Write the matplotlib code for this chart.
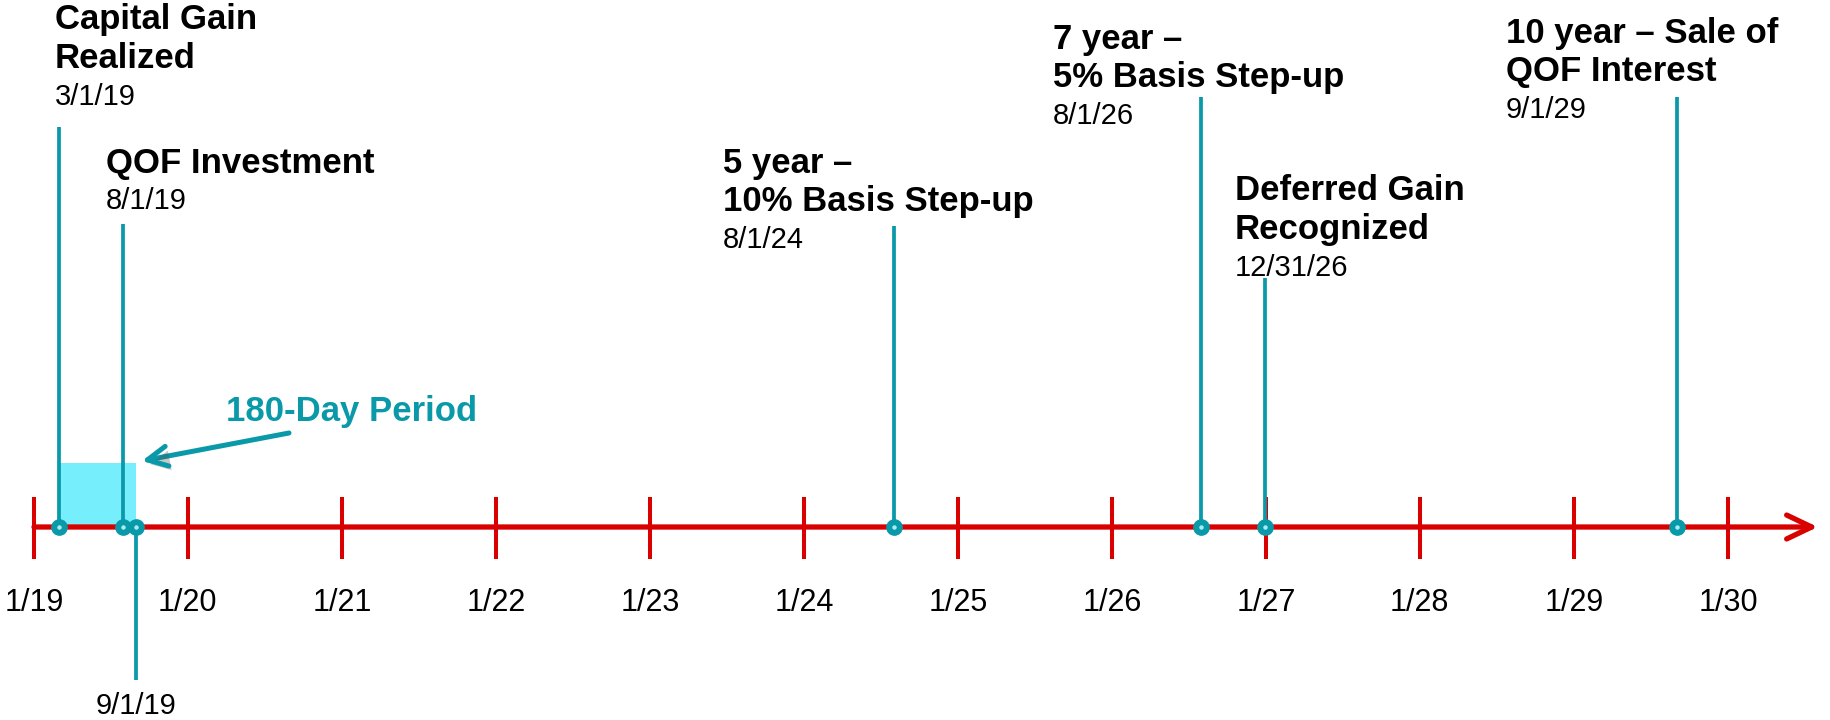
import datetime as dt
import matplotlib
matplotlib.use("Agg")
import matplotlib.pyplot as plt
import matplotlib.dates as mdates
import matplotlib.patheffects as pe

plt.rcParams["font.family"] = ["Liberation Sans", "DejaVu Sans"]

W, H = 1830, 720
RED = "#d90000"
TEAL = "#0a99a9"

# timeline events
event_dates = [dt.datetime(2019, 3, 1), dt.datetime(2019, 8, 1), dt.datetime(2019, 9, 1),
               dt.datetime(2024, 8, 1), dt.datetime(2026, 8, 1), dt.datetime(2026, 12, 31),
               dt.datetime(2029, 9, 1)]
event_titles = [["Capital Gain", "Realized"], ["QOF Investment"], [],
                ["5 year \u2013", "10% Basis Step-up"], ["7 year \u2013", "5% Basis Step-up"],
                ["Deferred Gain", "Recognized"], ["10 year \u2013 Sale of", "QOF Interest"]]
event_labels = ["3/1/19", "8/1/19", "9/1/19", "8/1/24", "8/1/26", "12/31/26", "9/1/29"]

# yearly ticks
years = list(range(2019, 2031))
year_labels = [f"1/{y % 100}" for y in years]

# the 180 day window after the gain
window_start = dt.datetime(2019, 3, 1)
window_end = dt.datetime(2019, 9, 1)
window_label = "180-Day Period"

# layout (pixels from top-left)
axis_y = 527
stem_end = [127, 224, 680, 226, 97, 278, 97]
title_pos = [(55, 20), (106, 163), (None, 706), (723, 163), (1053, 39), (1235, 191), (1506, 33)]
line_gap = 39

fig = plt.figure(figsize=(W / 100, H / 100), dpi=100)
ax = fig.add_axes([0, 0, 1, 1])
ax.axis("off")

t0 = mdates.date2num(dt.datetime(years[0], 1, 1))
t1 = mdates.date2num(dt.datetime(years[-1], 1, 1))
ax.set_xlim(t0 - 80.6, t1 + 242)
ax.set_ylim(H, 0)

xs = mdates.date2num(event_dates)
ticks = [mdates.date2num(dt.datetime(y, 1, 1)) for y in years]

# shaded window
ws, we = mdates.date2num(window_start), mdates.date2num(window_end)
ax.fill_between([ws, we], 463, axis_y, color="#77eefb", lw=0, zorder=1)

# main axis with arrow
ax.annotate("", xy=(t1 + 213, axis_y), xytext=(t0, axis_y),
            arrowprops=dict(arrowstyle="->,head_length=0.9,head_width=0.43", mutation_scale=20,
                            lw=3.8, color=RED, shrinkA=0, shrinkB=0), zorder=2)
ax.vlines(ticks, 497, 559, color=RED, lw=2.9, zorder=2)
for x, lab in zip(ticks, year_labels):
    ax.text(x, 603, lab, ha="center", va="center", fontsize=22, color="black")

# event stems
ax.vlines(xs, axis_y, stem_end, color=TEAL, lw=2.7, zorder=3)
ax.plot(xs, [axis_y] * len(xs), "o", ms=11, color=TEAL, zorder=4)
ax.plot(xs, [axis_y] * len(xs), "o", ms=2.2, color="#a6eef5", zorder=5)

for x, titles, lab, (lx, ly) in zip(xs, event_titles, event_labels, title_pos):
    if not titles:
        ax.text(x, ly, lab, ha="center", va="center", fontsize=21)
        continue
    for i, t in enumerate(titles):
        fig.text(lx / W, 1 - (ly + i * line_gap) / H, t, ha="left", va="center",
                 fontsize=25, fontweight="bold")
    fig.text(lx / W, 1 - (ly + len(titles) * line_gap - 1) / H, lab, ha="left", va="center",
             fontsize=21)

# callout for the window
fig.text(352 / W, 1 - 412 / H, window_label, ha="center", va="center", fontsize=25,
         fontweight="bold", color=TEAL)
ax.annotate("", xy=(we, 462), xycoords="data", xytext=(289, H - 433), textcoords="figure pixels",
            arrowprops=dict(arrowstyle="->,head_length=0.72,head_width=0.36", mutation_scale=20,
                            lw=3.6, color=TEAL, shrinkA=0, shrinkB=4,
                            path_effects=[pe.SimplePatchShadow(offset=(2, -3), alpha=0.3),
                                          pe.Normal()]))

fig.savefig("out.png", dpi=100, facecolor="white")
